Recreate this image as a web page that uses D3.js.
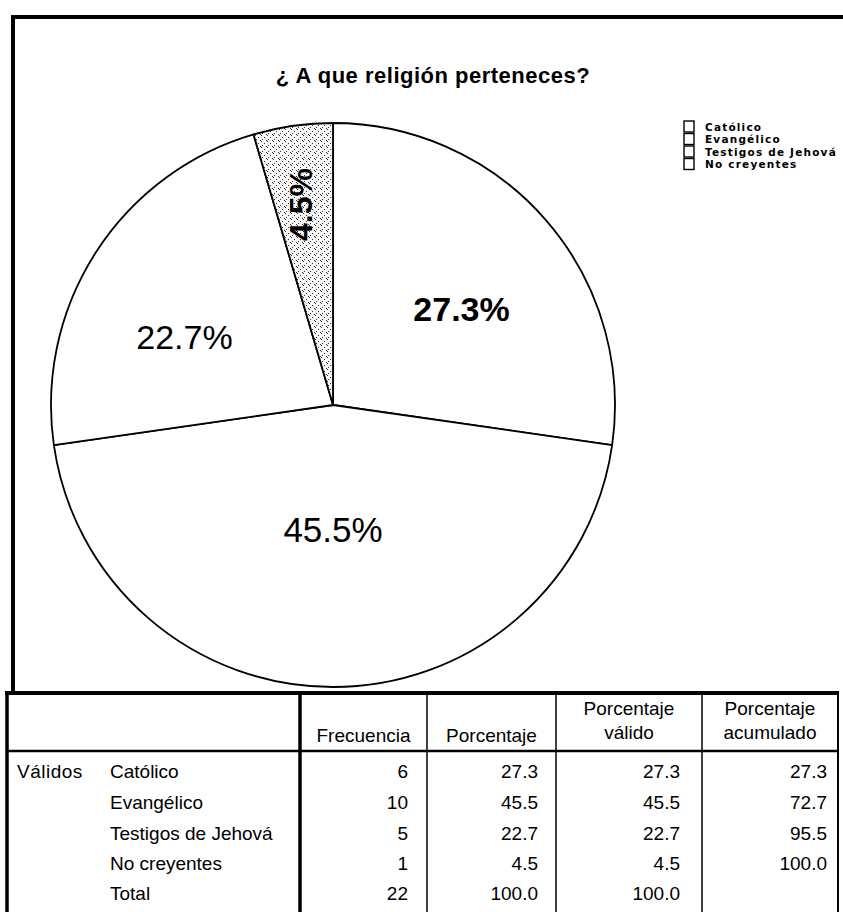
<!DOCTYPE html>
<html>
<head>
<meta charset="utf-8">
<script src="https://cdn.jsdelivr.net/npm/d3@7"></script>
<style>
  body { margin: 0; background: #fff; }
  svg { display: block; }
</style>
</head>
<body>
<script>
var svgWidth = 843;
var svgHeight = 912;

// data
var categories = ["Católico", "Evangélico", "Testigos de Jehová", "No creyentes"];
var frecuencia = [6, 10, 5, 1];
var porcentaje = [27.3, 45.5, 22.7, 4.5];
var porcentajeValido = [27.3, 45.5, 22.7, 4.5];
var porcentajeAcumulado = [27.3, 72.7, 95.5, 100.0];
var totalFrecuencia = 22;
var totalPorcentaje = 100.0;
var sliceLabels = ["27.3%", "45.5%", "22.7%", "4.5%"];
var headerLabels = [["Frecuencia"], ["Porcentaje"], ["Porcentaje", "válido"], ["Porcentaje", "acumulado"]];
var title = "¿ A que religión perteneces?";

var svg = d3.select("body")
  .append("svg")
  .attr("width", svgWidth)
  .attr("height", svgHeight);

svg.append("rect").attr("width", svgWidth).attr("height", svgHeight).attr("fill", "#fff");

// stipple pattern for the small slice
var defs = svg.append("defs");
var pat = defs.append("pattern")
  .attr("id", "stipple")
  .attr("patternUnits", "userSpaceOnUse")
  .attr("width", 6).attr("height", 6);
pat.append("rect").attr("width", 6).attr("height", 6).attr("fill", "#f7f7f7");
[[0, 0], [3, 2], [1, 4], [5, 5]].forEach(function(p) {
  pat.append("rect").attr("x", p[0]).attr("y", p[1])
    .attr("width", 1).attr("height", 1).attr("fill", "#333");
});

// chart frame
svg.append("path")
  .attr("d", "M13,692 L13,17 L843,17")
  .attr("fill", "none")
  .attr("stroke", "#000")
  .attr("stroke-width", 4);

svg.append("text")
  .attr("x", 433)
  .attr("y", 83)
  .attr("text-anchor", "middle")
  .style("font-family", "'Liberation Sans', Arial, sans-serif")
  .style("font-weight", "bold")
  .style("font-size", "22px")
  .style("letter-spacing", "0.5px")
  .text(title);

// pie
var cx = 333, cy = 405, radius = 282;
var pieGroup = svg.append("g").attr("transform", `translate(${cx}, ${cy})`);

var pie = d3.pie().sort(null).value(d => d);
var arcs = pie(frecuencia);
var arc = d3.arc().innerRadius(0).outerRadius(radius);

pieGroup.selectAll("path.slice")
  .data(arcs)
  .enter()
  .append("path")
  .attr("class", "slice")
  .attr("d", arc)
  .attr("fill", (d, i) => i == 3 ? "url(#stipple)" : "#fff")
  .attr("stroke", "#000")
  .attr("stroke-width", 1.8)
  .attr("stroke-linejoin", "round");

// label placement tweaks (fraction of radius, angle shift in degrees)
var labelR = [0.57, 0.44, 0.58, 0.72];
var labelShift = [4, 0, -8, -1];
var labelSize = [34, 35, 34, 32];
var labelWeight = ["bold", "normal", "normal", "bold"];

pieGroup.selectAll("text.lbl")
  .data(arcs)
  .enter()
  .append("text")
  .attr("class", "lbl")
  .attr("transform", function(d, i) {
    var a = (d.startAngle + d.endAngle) / 2 + labelShift[i] * Math.PI / 180;
    var x = Math.sin(a) * radius * labelR[i];
    var y = -Math.cos(a) * radius * labelR[i];
    return i == 3 ? `translate(${x}, ${y}) rotate(-90)` : `translate(${x}, ${y})`;
  })
  .attr("text-anchor", "middle")
  .attr("dy", "0.36em")
  .style("font-family", "'Liberation Sans', Arial, sans-serif")
  .style("font-size", (d, i) => labelSize[i] + "px")
  .style("font-weight", (d, i) => labelWeight[i])
  .text((d, i) => sliceLabels[i]);

// legend
var legend = svg.append("g").attr("transform", "translate(684, 121)");
var legendItem = legend.selectAll("g")
  .data(categories)
  .enter()
  .append("g")
  .attr("transform", (d, i) => `translate(0, ${i * 12.5})`);
legendItem.append("rect")
  .attr("width", 10).attr("height", 11)
  .attr("fill", "#fff").attr("stroke", "#000").attr("stroke-width", 1.4);
legendItem.append("text")
  .attr("x", 21).attr("y", 9.5)
  .style("font-family", "'DejaVu Sans', Verdana, sans-serif")
  .style("font-size", "10.5px")
  .style("font-weight", "bold")
  .style("letter-spacing", "1.2px")
  .text(d => d);

// frequency table
var colX = [7, 300, 427, 556, 702, 838];
var headTop = 693, headBottom = 751;
var rowBase = [778, 809, 840, 870, 900];
var tableFont = "'Liberation Sans', Arial, sans-serif";

var table = svg.append("g");

table.append("line")
  .attr("x1", colX[0] - 2).attr("x2", colX[5] + 1)
  .attr("y1", headTop).attr("y2", headTop)
  .attr("stroke", "#000").attr("stroke-width", 4);
table.append("line")
  .attr("x1", colX[0]).attr("x2", colX[5])
  .attr("y1", headBottom).attr("y2", headBottom)
  .attr("stroke", "#000").attr("stroke-width", 2.5);

colX.forEach(function(x, i) {
  table.append("line")
    .attr("x1", x).attr("x2", x)
    .attr("y1", headTop).attr("y2", svgHeight)
    .attr("stroke", "#000")
    .attr("stroke-width", (i == 0 || i == 1) ? 3.5 : (i == 5 ? 2 : 1.5));
});

// headers
headerLabels.forEach(function(lines, c) {
  var mid = (colX[c + 1] + colX[c + 2]) / 2;
  lines.forEach(function(t, k) {
    table.append("text")
      .attr("x", mid)
      .attr("y", lines.length == 1 ? 742 : 715 + k * 24)
      .attr("text-anchor", "middle")
      .style("font-family", tableFont)
      .style("font-size", "19px")
      .text(t);
  });
});

// body
var rowNames = categories.concat(["Total"]);
var cols = [
  frecuencia.concat([totalFrecuencia]).map(d => String(d)),
  porcentaje.concat([totalPorcentaje]).map(d => d.toFixed(1)),
  porcentajeValido.concat([totalPorcentaje]).map(d => d.toFixed(1)),
  porcentajeAcumulado.map(d => d.toFixed(1)).concat([""])
];
var padRight = [19, 18, 22, 11];

table.append("text")
  .attr("x", 17).attr("y", rowBase[0])
  .style("font-family", tableFont)
  .style("font-size", "19px")
  .style("letter-spacing", "0.5px")
  .text("Válidos");

rowNames.forEach(function(name, r) {
  table.append("text")
    .attr("x", 110).attr("y", rowBase[r])
    .style("font-family", tableFont)
    .style("font-size", "19px")
    .text(name);
  cols.forEach(function(col, c) {
    table.append("text")
      .attr("x", colX[c + 2] - padRight[c])
      .attr("y", rowBase[r])
      .attr("text-anchor", "end")
      .style("font-family", tableFont)
      .style("font-size", "19px")
      .text(col[r]);
  });
});
</script>
</body>
</html>
